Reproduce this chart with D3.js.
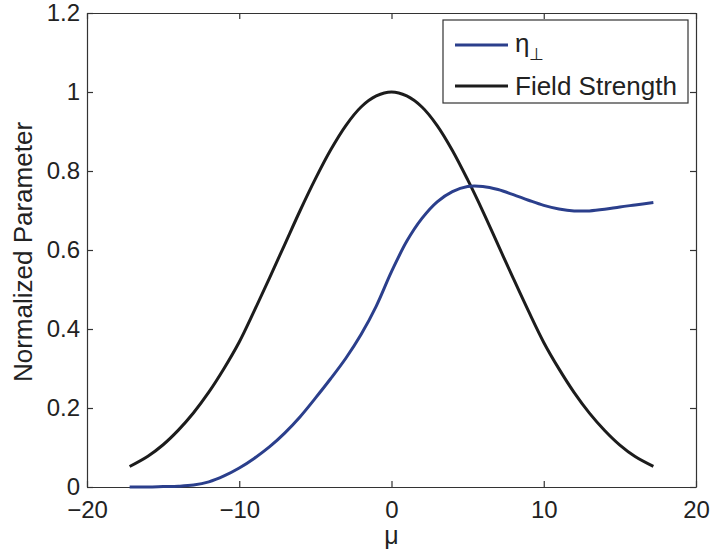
<!DOCTYPE html>
<html>
<head>
<meta charset="utf-8">
<script src="https://cdn.jsdelivr.net/npm/d3@7"></script>
<style>
  body { margin: 0; background: #fff; }
  text { font-family: "Liberation Sans", Arial, sans-serif; fill: #222; }
</style>
</head>
<body>
<div id="chart"></div>
<script>
// values
const mu = [-17.2, -16, -15, -14, -13, -12, -11, -10, -9, -8, -7, -6, -5, -4, -3, -2, -1, 0,
            1, 2, 3, 4, 5, 6, 7, 8, 9, 10, 11, 12, 13, 14, 15, 16, 17.2];
const fieldStrength = [0.052, 0.078, 0.107, 0.144, 0.188, 0.240, 0.300, 0.367, 0.447, 0.530, 0.615, 0.700, 0.780, 0.853, 0.915, 0.962, 0.990, 1.0,
                       0.990, 0.962, 0.915, 0.852, 0.778, 0.698, 0.613, 0.528, 0.445, 0.366, 0.299, 0.239, 0.187, 0.143, 0.106, 0.077, 0.052];
const etaPerp = [0, 0, 0.001, 0.002, 0.005, 0.013, 0.028, 0.048, 0.073, 0.102, 0.137, 0.178, 0.225, 0.274, 0.326, 0.386, 0.458, 0.545,
                 0.622, 0.680, 0.722, 0.748, 0.761, 0.761, 0.753, 0.740, 0.726, 0.713, 0.704, 0.699, 0.699, 0.703, 0.709, 0.714, 0.720];
const xTicks = [-20, -10, 0, 10, 20];
const yTicks = [0, 0.2, 0.4, 0.6, 0.8, 1, 1.2];

const W = 710, H = 552;
const margin = {top: 13, right: 14, bottom: 65, left: 87};
const width = W - margin.left - margin.right,
      height = H - margin.top - margin.bottom;

const svg = d3.select("#chart").append("svg")
  .attr("width", W).attr("height", H);
const g = svg.append("g")
  .attr("transform", "translate(" + margin.left + "," + margin.top + ")");

const x = d3.scaleLinear().domain([-20, 20]).range([0, width]);
const y = d3.scaleLinear().domain([0, 1.2]).range([height, 0]);

const fmtX = d => d < 0 ? "\u2212" + Math.abs(d) : String(d);
const fmtY = d => String(+d.toFixed(1));

// axes, matlab style box with inward ticks
g.append("g").attr("class", "axis")
  .attr("transform", "translate(0," + height + ")")
  .call(d3.axisBottom(x).tickValues(xTicks).tickSizeInner(-6).tickSizeOuter(0).tickPadding(14).tickFormat(fmtX));
g.append("g").attr("class", "axis")
  .call(d3.axisTop(x).tickValues(xTicks).tickSizeInner(-6).tickSizeOuter(0).tickFormat(""));
g.append("g").attr("class", "axis")
  .call(d3.axisLeft(y).tickValues(yTicks).tickSizeInner(-6).tickSizeOuter(0).tickPadding(7).tickFormat(fmtY));
g.append("g").attr("class", "axis")
  .attr("transform", "translate(" + width + ",0)")
  .call(d3.axisRight(y).tickValues(yTicks).tickSizeInner(-6).tickSizeOuter(0).tickFormat(""));

g.selectAll(".axis path.domain").attr("stroke", "#333").attr("stroke-width", 1.2);
g.selectAll(".axis line").attr("stroke", "#333").attr("stroke-width", 1.2);
g.selectAll(".axis text").style("font-size", "24px").attr("fill", "#222");

// lines
const line = vals => d3.line()
  .x((d, i) => x(mu[i]))
  .y(d => y(d))
  .curve(d3.curveCatmullRom.alpha(0.5))(vals);

g.append("path").attr("d", line(fieldStrength))
  .attr("fill", "none").attr("stroke", "#1c1c1c").attr("stroke-width", 3);
g.append("path").attr("d", line(etaPerp))
  .attr("fill", "none").attr("stroke", "#2b3f8c").attr("stroke-width", 3);

// axis labels
svg.append("text")
  .attr("x", margin.left + x(0)).attr("y", 544)
  .attr("text-anchor", "middle").style("font-size", "25px").text("\u03bc");
svg.append("text")
  .attr("transform", "translate(32," + (margin.top + height / 2 + 2) + ")rotate(-90)")
  .attr("text-anchor", "middle").style("font-size", "26px").text("Normalized Parameter");

// legend
const lg = svg.append("g").attr("transform", "translate(443,20)");
lg.append("rect").attr("width", 245).attr("height", 83)
  .attr("fill", "#fff").attr("stroke", "#333").attr("stroke-width", 1.2);
const items = [
  {color: "#2b3f8c", y: 25},
  {color: "#1c1c1c", y: 66}
];
lg.selectAll("line.key").data(items).enter().append("line")
  .attr("x1", 12).attr("x2", 65)
  .attr("y1", d => d.y).attr("y2", d => d.y)
  .attr("stroke", d => d.color).attr("stroke-width", 3);
const t1 = lg.append("text").attr("x", 72).attr("y", 32).style("font-size", "26px");
t1.append("tspan").text("\u03b7");
t1.append("tspan").attr("dy", 8).style("font-size", "17px").text("\u22a5");
lg.append("text").attr("x", 72).attr("y", 75).style("font-size", "26px").text("Field Strength");
</script>
</body>
</html>
